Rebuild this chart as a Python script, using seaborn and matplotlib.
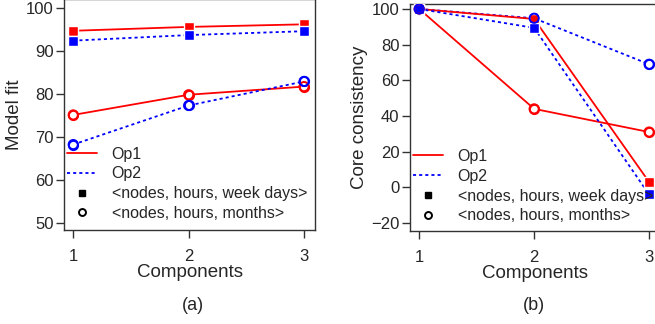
import matplotlib
matplotlib.use("Agg")
import matplotlib.pyplot as plt
import seaborn as sns
import pandas as pd
from matplotlib.lines import Line2D

components = [1, 2, 3]
fit_op1_week = [94.8, 95.7, 96.3]
fit_op2_week = [92.5, 93.8, 94.7]
fit_op1_month = [75.2, 79.9, 81.8]
fit_op2_month = [68.3, 77.4, 83.0]
cc_op1_week = [100, 94.4, 3]
cc_op2_week = [100, 89.4, -4]
cc_op1_month = [100, 44, 31]
cc_op2_month = [100, 94.8, 69]

legend_labels = ["Op1", "Op2", "<nodes, hours, week days>", "<nodes, hours, months>"]

sns.set_theme(style="white")
plt.rcParams['font.family'] = ['Liberation Sans', 'DejaVu Sans']
TXT = '#262626'

RED = '#ff0000'
BLUE = '#0000ff'
DOT = (0, (1.7, 1.7))

fig = plt.figure(figsize=(6.55, 3.24), dpi=100)
W, H = 655, 324

def add_ax(left, top, right, bottom):
    return fig.add_axes([left / W, 1 - bottom / H, (right - left) / W, (bottom - top) / H])

axa = add_ax(64, -1, 315, 230)
axb = add_ax(410, 4, 660, 231)

def draw(ax, op1w, op2w, op1m, op2m):
    series = [
        (op1m, RED, '-', 'o'), (op2m, BLUE, DOT, 'o'),
        (op1w, RED, '-', 's'), (op2w, BLUE, DOT, 's'),
    ]
    for vals, col, ls, mk in series:
        df = pd.DataFrame({'x': components, 'y': vals})
        sns.lineplot(data=df, x='x', y='y', ax=ax, color=col, linestyle=ls,
                     linewidth=1.3, legend=False, zorder=2)
    for vals, col, ls, mk in series:
        df = pd.DataFrame({'x': components, 'y': vals})
        if mk == 'o':
            sns.scatterplot(data=df, x='x', y='y', ax=ax, marker='o', s=44,
                            facecolor='white', edgecolor=col, linewidth=1.4,
                            legend=False, zorder=3)
            sns.scatterplot(data=df, x='x', y='y', ax=ax, marker='o', s=44,
                            facecolor='none', edgecolor=col, linewidth=1.4,
                            legend=False, zorder=5)
        else:
            sns.scatterplot(data=df, x='x', y='y', ax=ax, marker='s', s=52,
                            color=col, edgecolor='white', linewidth=1.0,
                            legend=False, zorder=4)
    ax.set_xlim(0.92, 3.095)
    ax.set_xticks(components)
    ax.set_xlabel('Components', fontsize=13.5, color=TXT, labelpad=0)
    for s in ax.spines.values():
        s.set_color('#333333')
        s.set_linewidth(1.0)
    ax.tick_params(axis='both', direction='out', length=5.5, width=1.0,
                   colors='#333333', labelsize=12, labelcolor=TXT, pad=2,
                   bottom=True, left=True, top=False, right=False)
    ax.tick_params(axis='x', pad=8)
    handles = [
        Line2D([], [], color=RED, linestyle='-', linewidth=1.3),
        Line2D([], [], color=BLUE, linestyle=DOT, linewidth=1.3),
        Line2D([], [], color='black', marker='s', linestyle='none', markersize=4.5),
        Line2D([], [], color='black', marker='o', linestyle='none', markersize=5,
               markerfacecolor='white', markeredgewidth=1.4),
    ]
    leg = ax.legend(handles, legend_labels, loc='upper left',
                    bbox_to_anchor=(0.005, 0.368), frameon=False, fontsize=11.5,
                    borderpad=0, borderaxespad=0.1, handlelength=1.9,
                    handletextpad=0.9, labelspacing=0.3)
    for t in leg.get_texts():
        t.set_color(TXT)

draw(axa, fit_op1_week, fit_op2_week, fit_op1_month, fit_op2_month)
axa.set_ylim(48.4, 102.2)
axa.set_yticks([50, 60, 70, 80, 90, 100])
axa.set_ylabel('Model fit', fontsize=13.5, color=TXT, labelpad=2)

draw(axb, cc_op1_week, cc_op2_week, cc_op1_month, cc_op2_month)
axb.set_ylim(-24.5, 102.8)
axb.set_yticks([-20, 0, 20, 40, 60, 80, 100])
axb.set_ylabel('Core consistency', fontsize=13.5, color=TXT, labelpad=2)

fig.text(193 / W, 1 - 305 / H, '(a)', ha='center', va='center', fontsize=13, color=TXT)
fig.text(534 / W, 1 - 305 / H, '(b)', ha='center', va='center', fontsize=13, color=TXT)

fig.savefig('out.png', dpi=100)
